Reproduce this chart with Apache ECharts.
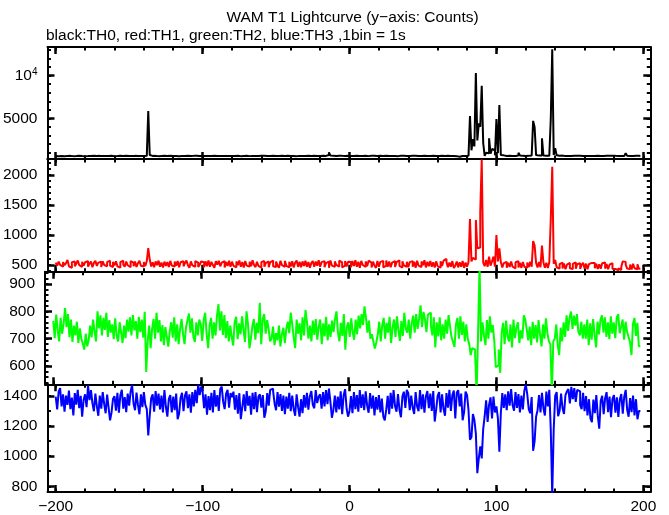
<!DOCTYPE html>
<html><head><meta charset="utf-8">
<script src="https://cdn.jsdelivr.net/npm/echarts@6/dist/echarts.min.js"></script>
<style>html,body{margin:0;padding:0;background:#fff}#c{width:669px;height:515px}</style>
</head><body><div id="c"></div>
<script>
// ---------------- data (1 s bins, first bin starts at -200 s) ----------------
const BIN_START = -200;
const TH0 = [
575,560,590,570,585,555,600,575,565,590,580,560,595,570,585,600,690,570,585,560,
580,565,590,575,560,600,570,585,555,590,575,565,595,580,560,585,570,600,575,560,
585,570,560,595,575,580,555,590,570,585,600,565,575,590,560,580,595,570,585,575,
570,590,600,5860,700,585,565,590,575,560,595,580,570,590,555,585,575,600,565,580,
590,570,585,560,600,575,590,565,580,595,570,585,560,590,575,600,580,565,590,575,
560,585,600,570,590,575,560,595,580,565,590,575,600,585,560,580,595,570,585,575,
590,565,580,600,575,560,590,585,570,595,580,560,575,590,600,565,585,575,560,590,
575,590,560,585,600,570,580,595,565,575,590,585,560,600,575,580,565,590,585,570,
585,570,595,560,580,590,575,565,600,580,570,590,560,585,575,595,570,580,590,565,
580,595,570,585,560,700,1010,620,590,575,585,560,600,575,590,570,585,560,595,580,
570,590,575,560,600,585,570,590,565,580,595,575,560,585,600,570,590,575,580,565,
590,575,585,560,595,570,580,600,565,590,575,585,560,580,595,570,590,565,585,575,
580,565,595,575,590,560,585,600,570,580,590,565,575,595,580,560,590,575,585,570,
575,560,590,570,585,560,595,575,565,590,570,580,560,585,480,470,575,590,565,580,
590,640,5270,1250,2550,1700,10300,2400,4400,4000,8830,2100,600,950,900,2650,850,1400,1250,650,
4900,900,6560,700,650,600,580,620,590,600,570,610,585,600,620,960,640,590,610,580,
600,590,620,640,640,4700,3950,680,620,600,640,2650,620,600,590,610,640,4900,13100,700,
1480,650,600,580,620,590,575,610,585,600,570,590,605,580,595,570,600,585,575,590,
580,600,575,590,570,595,580,565,600,585,570,590,580,575,595,565,590,580,600,575,
590,570,585,600,575,590,565,640,890,600,580,595,570,585,600,575,590,580
];
const TH1 = [
540,488,556,502,470,548,495,530,583,478,452,545,560,480,522,575,498,470,552,490,
545,565,472,520,558,462,535,570,485,540,555,468,562,500,478,548,572,490,466,550,
492,560,478,455,548,570,505,470,558,495,462,565,540,480,556,468,530,572,488,475,
550,482,565,783,590,476,545,462,560,498,572,470,540,458,556,485,548,466,568,492,
472,558,490,566,462,545,562,478,530,575,495,455,560,492,470,565,540,468,502,558,
545,462,560,480,575,470,552,498,455,562,505,570,478,540,566,460,548,485,572,470,
555,485,462,560,498,575,470,548,458,566,490,472,555,480,578,500,465,552,485,458,
548,568,472,530,560,462,545,575,480,466,558,492,455,570,498,470,568,485,460,555,
475,562,458,540,575,468,552,462,560,485,570,472,548,455,530,566,470,558,488,580,
470,548,565,462,530,558,452,576,490,468,560,502,470,572,545,460,488,565,475,552,
548,462,565,485,578,470,552,455,568,500,468,560,478,572,540,460,556,488,452,565,
470,552,566,458,490,575,472,558,462,540,565,468,548,578,485,458,562,495,470,555,
462,548,565,472,555,455,570,488,465,560,498,578,460,552,480,568,470,545,458,560,
478,455,562,485,572,600,548,462,540,470,565,450,488,558,460,545,472,566,452,540,
470,548,1267,560,620,590,1250,778,790,1389,2260,540,480,585,470,640,490,560,640,475,
1000,560,778,548,458,530,552,455,538,466,558,472,445,545,562,460,535,452,548,470,
452,540,465,552,470,900,822,535,458,548,462,822,540,455,538,450,545,1262,2139,520,
583,462,438,515,540,442,525,428,505,535,446,432,520,545,438,512,530,436,500,538,
442,522,430,515,535,560,532,445,520,432,512,438,528,540,440,518,428,505,530,438,
435,420,410,445,415,470,560,552,505,440,432,508,425,520,445,430,512,438
];
const TH2 = [
765,702,788,731,690,776,718,754,812,742,790,705,770,688,748,712,762,684,738,700,
682,660,718,672,694,748,705,770,726,690,800,738,785,712,776,732,795,706,768,722,
752,698,774,710,690,760,722,684,748,702,770,726,778,712,786,730,764,700,780,724,
770,704,798,578,690,748,665,735,772,700,795,722,768,690,750,676,742,706,671,728,
760,704,778,690,752,680,736,772,716,680,742,768,792,722,774,706,688,760,712,770,
752,692,770,795,716,665,748,776,700,760,712,784,826,730,800,714,786,702,764,690,
748,706,675,762,780,698,756,716,782,730,688,800,754,665,700,746,772,696,758,720,
831,680,772,790,718,768,736,690,700,744,676,720,694,748,672,716,740,684,736,762,
720,795,752,704,665,770,718,756,694,778,712,805,760,700,748,690,766,714,772,696,
744,770,680,756,708,780,694,752,706,766,724,772,800,722,690,758,710,790,660,742,
760,706,774,724,696,770,716,784,738,790,750,818,776,722,766,700,716,690,664,686,
716,762,690,748,776,700,758,722,780,684,738,770,706,782,730,692,764,710,795,736,
722,770,700,756,784,722,790,736,772,822,742,798,770,724,788,795,748,712,778,668,
760,708,778,694,752,700,770,718,786,744,706,688,670,752,776,700,782,714,762,690,
752,700,680,640,665,660,640,500,720,970,690,760,712,676,768,700,782,722,750,690,
596,603,660,575,722,758,680,766,708,690,752,668,770,702,740,760,684,730,700,785,
770,732,694,744,676,762,700,750,686,768,716,672,752,700,774,720,690,680,500,690,
700,752,676,640,740,690,760,706,785,728,776,799,736,784,748,790,726,712,762,700,
752,700,770,676,756,696,772,714,668,762,716,770,785,722,778,706,760,698,782,718,
760,702,778,790,720,744,770,696,762,726,706,688,640,754,776,710,758,672
];
const TH3 = [
1395,1310,1428,1452,1330,1410,1295,1402,1340,1435,1312,1388,1270,1418,1342,1440,1318,1400,1262,1375,
1410,1325,1468,1372,1438,1350,1298,1415,1332,1268,1402,1315,1425,1345,1285,1408,1322,1238,1290,1380,
1398,1302,1420,1288,1405,1440,1315,1392,1292,1415,1335,1430,1472,1348,1305,1422,1340,1278,1410,1325,
1425,1340,1312,1138,1270,1385,1410,1296,1432,1335,1415,1310,1402,1290,1438,1328,1262,1380,1405,1290,
1395,1305,1415,1245,1282,1388,1420,1298,1402,1430,1318,1410,1288,1425,1330,1440,1352,1475,1405,1462,
1428,1318,1410,1275,1398,1305,1420,1290,1438,1328,1405,1300,1445,1462,1360,1312,1415,1440,1322,1418,
1392,1428,1308,1405,1282,1418,1245,1325,1410,1298,1432,1335,1400,1275,1420,1312,1425,1292,1395,1410,
1322,1405,1255,1298,1418,1335,1440,1448,1430,1350,1305,1425,1328,1412,1300,1402,1278,1395,1315,1420,
1298,1402,1312,1268,1410,1325,1262,1378,1285,1405,1322,1420,1308,1398,1432,1340,1318,1438,1352,1395,
1410,1315,1425,1330,1438,1345,1448,1360,1255,1305,1402,1290,1395,1310,1430,1278,1405,1445,1318,1262,
1300,1398,1285,1425,1312,1405,1295,1438,1320,1410,1305,1430,1335,1288,1418,1315,1402,1270,1392,1308,
1405,1290,1382,1262,1238,1310,1400,1278,1420,1315,1438,1332,1295,1412,1308,1258,1395,1428,1320,1440,
1418,1305,1402,1322,1280,1425,1330,1298,1438,1312,1410,1288,1398,1432,1318,1415,1300,1432,1230,1310,
1400,1425,1290,1410,1312,1268,1418,1322,1440,1300,1405,1435,1250,1422,1438,1330,1415,1238,1292,1428,
1405,1305,1110,1125,1280,1240,1150,887,985,1065,985,1180,1265,1370,1228,1342,1390,1250,1395,1290,
1330,1252,1030,1285,1418,1320,1410,1305,1430,1335,1445,1338,1302,1425,1320,1412,1290,1402,1310,1435,
1475,1410,1312,1285,1392,1036,1100,1262,1305,1405,1290,1420,1318,1270,1428,1330,1440,1174,740,1180,
1400,1425,1265,1300,1415,1318,1280,1405,1430,1445,1350,1460,1378,1452,1360,1440,1430,1340,1312,1420,
1298,1398,1270,1378,1250,1225,1375,1285,1405,1268,1182,1368,1400,1278,1385,1425,1292,1395,1258,1380,
1405,1288,1390,1260,1378,1412,1282,1395,1440,1308,1262,1385,1292,1402,1270,1378,1245,1300
];
// tick labels / tick positions
const X_LABELS = [-200, -100, 0, 100, 200];
const X_MINOR = [-200,-180,-160,-140,-120,-100,-80,-60,-40,-20,0,20,40,60,80,100,120,140,160,180,200];
const TH0_LABELS = [5000, 10000];
const TH1_LABELS = [500, 1000, 1500, 2000];
const TH2_LABELS = [600, 700, 800, 900];
const TH3_LABELS = [800, 1000, 1200, 1400];
const TH0_MINOR = [1000,2000,3000,4000,5000,6000,7000,8000,9000,10000,11000,12000,13000];
const TH1_MINOR = [400,500,600,700,800,900,1000,1100,1200,1300,1400,1500,1600,1700,1800,1900,2000,2100,2200];
const TH2_MINOR = [540,560,580,600,620,640,660,680,700,720,740,760,780,800,820,840,860,880,900,920,940];
const TH3_MINOR = [800,900,1000,1100,1200,1300,1400];
const TITLE = 'WAM T1 Lightcurve (y\u2212axis: Counts)';
const SUBTITLE = 'black:TH0, red:TH1, green:TH2, blue:TH3 ,1bin = 1s';

// ---------------- layout / style ----------------
const FONT = '"Liberation Sans", Arial, Helvetica, sans-serif';
const FS = 15.5;
const X_MIN = -205.6, X_MAX = 204.75;
const PANELS = [
  {values: TH0, color: '#000000', min: 223, max: 13368, labels: TH0_LABELS, minor: TH0_MINOR, top: 47, height: 112},
  {values: TH1, color: '#ff0000', min: 388, max: 2267, labels: TH1_LABELS, minor: TH1_MINOR, top: 159, height: 112.7},
  {values: TH2, color: '#00ff00', min: 533, max: 945, labels: TH2_LABELS, minor: TH2_MINOR, top: 271.7, height: 112.6},
  {values: TH3, color: '#0000ff', min: 762, max: 1477, labels: TH3_LABELS, minor: TH3_MINOR, top: 384.3, height: 111.7}
];
const MAJ_LEN = 7, MIN_LEN = 3.5;

const grids = [], xAxes = [], yAxes = [], series = [];
PANELS.forEach((p, gi) => {
  grids.push({left: 45, right: 18.7, top: p.top, height: p.height, containLabel: false});
  const lineOn = {show: true, onZero: false, lineStyle: {color: '#000', width: 2}};
  const lineOff = {show: false, onZero: false};
  const xb = {type: 'value', gridIndex: gi, min: X_MIN, max: X_MAX, splitLine: {show: false}, axisLabel: {show: false}};
  const isLast = gi === PANELS.length - 1;
  xAxes.push(Object.assign({}, xb, {
    position: 'bottom', axisLine: lineOn,
    axisTick: {show: true, inside: true, length: MAJ_LEN, customValues: X_LABELS, lineStyle: {color: '#000', width: 2.5}},
    axisLabel: isLast ? {show: true, customValues: X_LABELS, margin: 7, color: '#000', fontFamily: FONT, fontSize: FS,
      formatter: v => (v < 0 ? '\u2212' + Math.abs(v) : String(v))} : {show: false}
  }));
  xAxes.push(Object.assign({}, xb, {position: 'bottom', axisLine: lineOff,
    axisTick: {show: true, inside: true, length: MIN_LEN, customValues: X_MINOR, lineStyle: {color: '#000', width: 2}}}));
  xAxes.push(Object.assign({}, xb, {position: 'top', axisLine: lineOn,
    axisTick: {show: true, inside: true, length: MAJ_LEN, customValues: X_LABELS, lineStyle: {color: '#000', width: 2.5}}}));
  xAxes.push(Object.assign({}, xb, {position: 'top', axisLine: lineOff,
    axisTick: {show: true, inside: true, length: MIN_LEN, customValues: X_MINOR, lineStyle: {color: '#000', width: 2}}}));

  const yb = {type: 'value', gridIndex: gi, min: p.min, max: p.max, splitLine: {show: false}, axisLabel: {show: false}};
  yAxes.push(Object.assign({}, yb, {
    position: 'left', axisLine: lineOn,
    axisTick: {show: true, inside: true, length: MAJ_LEN, customValues: p.labels, lineStyle: {color: '#000', width: 2.5}},
    axisLabel: {show: true, customValues: p.labels, margin: 10, color: '#000', fontFamily: FONT, fontSize: FS,
      formatter: v => (v === 10000 ? '10{s|4}' : String(v)),
      rich: {s: {fontSize: 10, fontFamily: FONT, color: '#000', verticalAlign: 'top', padding: [0, 0, 6, 0]}}}
  }));
  yAxes.push(Object.assign({}, yb, {position: 'left', axisLine: lineOff,
    axisTick: {show: true, inside: true, length: MIN_LEN, customValues: p.minor, lineStyle: {color: '#000', width: 2}}}));
  yAxes.push(Object.assign({}, yb, {position: 'right', axisLine: lineOn,
    axisTick: {show: true, inside: true, length: MAJ_LEN, customValues: p.labels, lineStyle: {color: '#000', width: 2.5}}}));
  yAxes.push(Object.assign({}, yb, {position: 'right', axisLine: lineOff,
    axisTick: {show: true, inside: true, length: MIN_LEN, customValues: p.minor, lineStyle: {color: '#000', width: 2}}}));

  const pts = p.values.map((v, i) => [BIN_START + i, v]);
  pts.push([BIN_START + p.values.length, p.values[p.values.length - 1]]);
  series.push({
    type: 'line', xAxisIndex: gi * 4, yAxisIndex: gi * 4, data: pts, step: 'end',
    showSymbol: false, symbol: 'none', clip: true, z: 1,
    lineStyle: {color: p.color, width: 2}, emphasis: {disabled: true}
  });
});

const chart = echarts.init(document.getElementById('c'), null, {renderer: 'canvas'});
chart.setOption({
  backgroundColor: '#ffffff',
  animation: false,
  title: [
    {text: TITLE, left: 347.5, top: 5, textAlign: 'center',
      textStyle: {fontFamily: FONT, fontSize: FS, fontWeight: 'normal', color: '#000'}},
    {text: SUBTITLE, left: 41, top: 23,
      textStyle: {fontFamily: FONT, fontSize: FS, fontWeight: 'normal', color: '#000'}}
  ],
  grid: grids,
  xAxis: xAxes,
  yAxis: yAxes,
  series: series
});
</script>
</body></html>
